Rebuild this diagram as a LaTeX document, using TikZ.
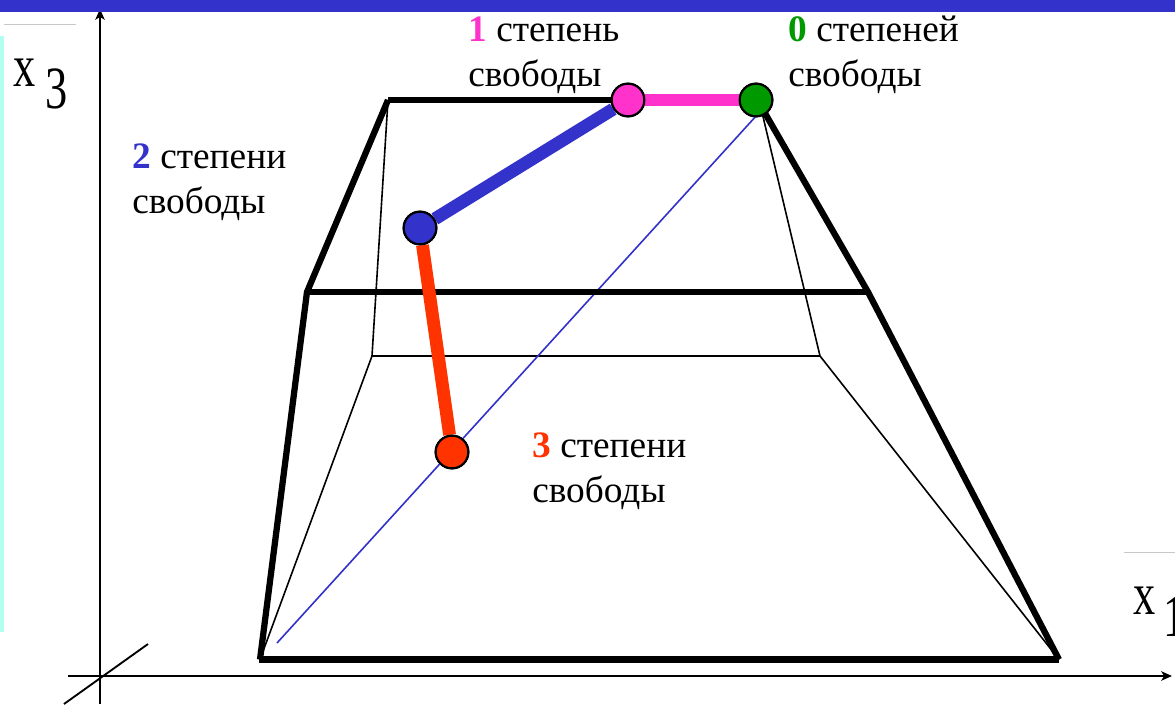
\documentclass[tikz,border=0pt]{standalone}
\usepackage{graphicx}
\usepackage{fontspec}
\setmainfont{Liberation Serif}
\usetikzlibrary{arrows.meta}
\definecolor{topblue}{RGB}{51,51,204}
\definecolor{mint}{RGB}{178,255,240}
\definecolor{pinkc}{RGB}{255,51,204}
\definecolor{greenc}{RGB}{0,153,0}
\definecolor{redc}{RGB}{255,51,0}
\definecolor{rulegrey}{RGB}{200,200,200}
\newcommand{\narrowglyph}[1]{\scalebox{0.74}[1]{#1}}
\tikzset{
  x=0.75pt,y=-0.75pt,
  thickedge/.style={line width=4.7pt,line cap=butt,line join=miter},
  thinedge/.style={line width=1.2pt},
  axisline/.style={line width=1.4pt},
  axisarrow/.style={axisline,-{Stealth[length=8pt,width=7pt,inset=2pt]}},
  dof/.style={circle,draw=black,line width=1.6pt,minimum size=24.5pt,inner sep=0pt},
  dofedge/.style={line width=9.6pt},
  lbl/.style={anchor=base west,inner sep=0pt,font=\fontsize{28}{28}\selectfont},
  axlbl/.style={anchor=base west,inner sep=0pt,font=\fontsize{45}{45}\selectfont},
}
\begin{document}
\begin{tikzpicture}
\useasboundingbox (0,0) rectangle (1175,704);
\clip (0,0) rectangle (1175,704);
% decoration
\fill[mint] (0,36) rectangle (4,632);
\draw[rulegrey,line width=0.7pt] (4,24.5) -- (76,24.5);
\draw[rulegrey,line width=0.7pt] (1124,552.5) -- (1175,552.5);
% coordinates of the frame
\coordinate (A) at (260,659.5);
\coordinate (B) at (1059,659.5);
\coordinate (C) at (307,292);
\coordinate (D) at (868,292);
\coordinate (E) at (388,100);
\coordinate (F) at (372,356);
\coordinate (G) at (820,356);
\coordinate (H) at (277,643);
\coordinate (J) at (757,115);
\coordinate (K) at (760,104);
\coordinate (L) at (762,108);
% axes
\coordinate (o1) at (100,704);
\coordinate (o2) at (100,9);
\coordinate (h1) at (68,676);
\coordinate (h2) at (1172,676);
\coordinate (d1) at (64,704);
\coordinate (d2) at (148,644);
\draw[axisline] (d1) -- (d2);
\draw[axisarrow] (h1) -- (h2);
\draw[axisarrow] (o1) -- (o2);
% top band
\fill[topblue] (0,0) rectangle (1175,12);
% nodes
\node[dof,fill=pinkc] (n1) at (628,100) {};
\node[dof,fill=greenc] (n0) at (756,100) {};
\node[dof,fill=topblue] (n2) at (420,228) {};
\node[dof,fill=redc] (n3) at (452,452) {};
% thin edges
\draw[thinedge] (E) -- (F) -- (G) -- (K);
\draw[thinedge] (F) -- (A);
\draw[thinedge] (G) -- (B);
\draw[topblue,line width=1.2pt] (H) -- (J);
% thick frame
\draw[thickedge] (n1.west) -- (E);
\draw[thickedge] (E) -- (C) -- (A);
\draw[thickedge] ([xshift=-1pt]A |- B) -- (B);
\draw[thickedge] (B) -- (D) -- (L);
\draw[thickedge] (C) -- (D);
% coloured edges
\draw[pinkc,dofedge] (n1) -- (n0);
\draw[topblue,dofedge] (n2) -- (n1);
\draw[redc,dofedge] (n2) -- (n3);
% redraw nodes on top
\node[dof,fill=pinkc] at (n1) {};
\node[dof,fill=greenc] at (n0) {};
\node[dof,fill=topblue] at (n2) {};
\node[dof,fill=redc] at (n3) {};
% labels
\node[lbl] (t1a) at (468,41) {\textcolor{pinkc}{\textbf{1}} степень};
\node[lbl] (t1b) at (468,86) {свободы};
\node[lbl] (t0a) at (788,41) {\textcolor{greenc}{\textbf{0}} степеней};
\node[lbl] (t0b) at (788,86) {свободы};
\node[lbl] (t2a) at (132,168) {\textcolor{topblue}{\textbf{2}} степени};
\node[lbl] (t2b) at (132,213) {свободы};
\node[lbl] (t3a) at (532,457) {\textcolor{redc}{\textbf{3}} степени};
\node[lbl] (t3b) at (532,502) {свободы};
\node[axlbl] (x3a) at (13,86) {\narrowglyph{x}};
\node[axlbl] (x3b) at (45,108) {\narrowglyph{3}};
\node[axlbl] (x1a) at (1133,614) {\narrowglyph{x}};
\node[axlbl] (x1b) at (1163,636) {\narrowglyph{1}};
\end{tikzpicture}
\end{document}
